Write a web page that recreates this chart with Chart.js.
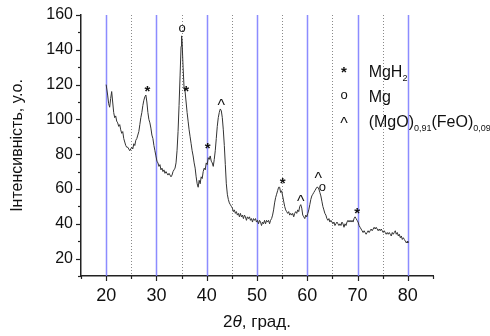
<!DOCTYPE html>
<html>
<head>
<meta charset="utf-8">
<script src="https://cdn.jsdelivr.net/npm/chart.js@4"></script>
<style>
  html, body { margin: 0; padding: 0; background: #fff; }
  #wrap { width: 490px; height: 336px; }
</style>
</head>
<body>
<div id="wrap"><canvas id="xrd"></canvas></div>
<script>
// diffraction angle (2θ, deg) and intensity
const angle = [
  20.0, 20.3, 20.5, 20.7, 20.9, 21.1, 21.3, 21.5, 21.7, 21.9,
  22.1, 22.3, 22.5, 22.7, 22.9, 23.1, 23.3, 23.5, 23.7, 23.9,
  24.1, 24.3, 24.5, 24.7, 24.9, 25.1, 25.3, 25.5, 25.7, 25.9,
  26.1, 26.3, 26.5, 26.7, 26.9, 27.1, 27.3, 27.5, 27.7, 27.9,
  28.1, 28.3, 28.5, 28.7, 28.9, 29.1, 29.3, 29.5, 29.7, 29.9,
  30.1, 30.3, 30.5, 30.7, 30.9, 31.1, 31.3, 31.5, 31.7, 31.9,
  32.1, 32.3, 32.5, 32.7, 32.9, 33.1, 33.3, 33.5, 33.7, 33.9,
  34.1, 34.3, 34.5, 34.7, 34.9, 35.0, 35.1, 35.3, 35.5, 35.7,
  35.9, 36.1, 36.3, 36.5, 36.7, 36.9, 37.1, 37.3, 37.5, 37.7,
  37.9, 38.1, 38.3, 38.5, 38.7, 38.9, 39.1, 39.3, 39.5, 39.7,
  39.9, 40.1, 40.3, 40.5, 40.7, 40.9, 41.1, 41.3, 41.5, 41.7,
  41.9, 42.1, 42.3, 42.5, 42.7, 42.9, 43.1, 43.3, 43.5, 43.7,
  43.9, 44.1, 44.3, 44.5, 44.7, 44.9, 45.1, 45.3, 45.5, 45.7,
  45.9, 46.1, 46.3, 46.5, 46.7, 46.9, 47.1, 47.3, 47.5, 47.7,
  47.9, 48.1, 48.3, 48.5, 48.7, 48.9, 49.1, 49.3, 49.5, 49.7,
  49.9, 50.1, 50.3, 50.5, 50.7, 50.9, 51.1, 51.3, 51.5, 51.7,
  51.9, 52.1, 52.3, 52.5, 52.7, 52.9, 53.1, 53.3, 53.5, 53.7,
  53.9, 54.1, 54.3, 54.5, 54.7, 54.9, 55.1, 55.3, 55.5, 55.7,
  55.9, 56.1, 56.3, 56.5, 56.7, 56.9, 57.1, 57.3, 57.5, 57.7,
  57.9, 58.1, 58.3, 58.5, 58.7, 58.9, 59.1, 59.3, 59.5, 59.7,
  59.9, 60.1, 60.3, 60.5, 60.7, 60.9, 61.1, 61.3, 61.5, 61.7,
  61.9, 62.1, 62.3, 62.5, 62.7, 62.9, 63.1, 63.3, 63.5, 63.7,
  63.9, 64.1, 64.3, 64.5, 64.7, 64.9, 65.1, 65.3, 65.5, 65.7,
  65.9, 66.1, 66.3, 66.5, 66.7, 66.9, 67.1, 67.3, 67.5, 67.7,
  67.9, 68.1, 68.3, 68.5, 68.7, 68.9, 69.1, 69.3, 69.5, 69.7,
  69.9, 70.1, 70.3, 70.5, 70.7, 70.9, 71.1, 71.3, 71.5, 71.7,
  71.9, 72.1, 72.3, 72.5, 72.7, 72.9, 73.1, 73.3, 73.5, 73.7,
  73.9, 74.1, 74.3, 74.5, 74.7, 74.9, 75.1, 75.3, 75.5, 75.7,
  75.9, 76.1, 76.3, 76.5, 76.7, 76.9, 77.1, 77.3, 77.5, 77.7,
  77.9, 78.1, 78.3, 78.5, 78.7, 78.9, 79.1, 79.3, 79.5, 79.7,
  79.9, 80.0
];
const intensity = [
  120, 114, 109, 107, 112, 116, 110, 104, 101, 102,
   99,  98,  96,  97,  94,  92,  93,  89,  87,  85,
   84,  84,  83,  82,  83,  84,  83,  86,  85,  88,
   89,  91,  93,  97, 101, 104, 108, 111, 113, 114,
  110, 104, 100,  98,  95,  91,  89,  85,  82,  79,
   76,  75,  73,  74,  71,  72,  70,  71,  69,  70,
   69,  68,  69,  68,  67,  68,  70,  71,  72,  75,
   82,  93, 108, 125, 142, 148, 145, 130, 118, 116,
  110, 104,  99,  94,  90,  86,  82,  79,  75,  72,
   67,  63,  61,  65,  63,  67,  66,  70,  72,  71,
   75,  74,  78,  77,  79,  76,  75,  73,  77,  82,
   89,  96, 101, 104, 106, 105, 101,  94,  85,  74,
   63,  57,  54,  52,  51,  50,  49,  47,  48,  46,
   47,  45,  46,  44,  46,  44,  45,  43,  45,  44,
   42,  44,  43,  44,  42,  43,  41,  43,  42,  43,
   41,  42,  40,  42,  41,  39,  41,  40,  42,  40,
   42,  41,  42,  40,  42,  43,  45,  48,  52,  55,
   57,  59,  61,  61,  58,  59,  56,  53,  50,  48,
   47,  46,  47,  45,  46,  45,  46,  44,  46,  47,
   46,  48,  47,  50,  51,  49,  45,  44,  43,  45,
   44,  46,  48,  51,  54,  56,  57,  58,  59,  60,
   61,  61,  60,  58,  56,  53,  50,  48,  46,  45,
   43,  42,  43,  41,  42,  41,  40,  41,  39,  40,
   41,  40,  39,  40,  39,  41,  40,  38,  40,  39,
   41,  42,  41,  42,  41,  42,  41,  43,  44,  43,
   42,  41,  39,  38,  37,  36,  35,  36,  35,  34,
   35,  36,  35,  36,  37,  36,  37,  38,  37,  38,
   37,  36,  37,  36,  37,  36,  35,  36,  35,  34,
   35,  34,  35,  34,  33,  35,  34,  35,  36,  34,
   35,  33,  34,  32,  33,  31,  32,  31,  30,  29,
   30,  29
];

// axis ticks
const xMajor = [20, 30, 40, 50, 60, 70, 80];
const xMinor = [15, 25, 35, 45, 55, 65, 75, 85];
const yMajor = [20, 40, 60, 80, 100, 120, 140, 160];
const yMinor = [10, 30, 50, 70, 90, 110, 130, 150];
const gridSolid = [20, 30, 40, 50, 60, 70, 80];
const gridDotted = [25, 35, 45, 55, 65, 75];

// phase markers above the peaks
const markText = ['*', 'o', '*', '*', '^', '*', '^', '^', 'o', '*'];
const markX    = [28.2, 35.1, 35.9, 40.2, 42.9, 55.1, 58.7, 62.2, 63.0, 69.9];
const markY    = [117, 152, 117, 84, 109, 64, 54, 67, 61, 47];

// legend (symbol, main text, subscript pieces)
const legendSym = ['*', 'o', '^'];
const legendText = [
  [['MgH', false], ['2', true]],
  [['Mg', false]],
  [['(MgO)', false], ['0,91', true], ['(FeO)', false], ['0,09', true]]
];
const legendSymX = 67.3, legendTextX = 72.2;
const legendY = [128, 113.5, 99];

const FONT = '"Liberation Sans", Arial, sans-serif';

function symFont(s) {
  if (s === '*') return 'bold 15px ' + FONT;
  if (s === '^') return '16px ' + FONT;
  return '13px ' + FONT;
}
function symShift(s) {
  if (s === '*') return 2;
  if (s === '^') return 3;
  return 0;
}

const decor = {
  id: 'decor',
  beforeDatasetsDraw(chart) {
    const { ctx, chartArea: a, scales: { x } } = chart;
    ctx.save();
    ctx.strokeStyle = 'rgba(120,120,255,0.85)';
    ctx.lineWidth = 1.5;
    gridSolid.forEach(v => {
      const px = Math.round(x.getPixelForValue(v)) + 0.5;
      ctx.beginPath(); ctx.moveTo(px, a.top); ctx.lineTo(px, a.bottom); ctx.stroke();
    });
    ctx.strokeStyle = '#8a8a8a';
    ctx.lineWidth = 1;
    ctx.setLineDash([1, 2]);
    gridDotted.forEach(v => {
      const px = Math.round(x.getPixelForValue(v)) + 0.5;
      ctx.beginPath(); ctx.moveTo(px, a.top); ctx.lineTo(px, a.bottom); ctx.stroke();
    });
    ctx.restore();
  },
  afterDraw(chart) {
    const { ctx, chartArea: a, scales: { x, y } } = chart;
    ctx.save();
    // tick marks, outward
    ctx.strokeStyle = '#222';
    ctx.lineWidth = 1.2;
    const tick = (vals, len, isX) => vals.forEach(v => {
      ctx.beginPath();
      if (isX) {
        const px = Math.round(x.getPixelForValue(v)) + 0.5;
        ctx.moveTo(px, a.bottom); ctx.lineTo(px, a.bottom + len);
      } else {
        const py = Math.round(y.getPixelForValue(v)) + 0.5;
        ctx.moveTo(a.left, py); ctx.lineTo(a.left - len, py);
      }
      ctx.stroke();
    });
    tick(xMajor, 5, true); tick(xMinor, 3, true);
    tick(yMajor, 5, false); tick(yMinor, 3, false);

    // peak markers
    ctx.fillStyle = '#111';
    ctx.textAlign = 'center';
    ctx.textBaseline = 'middle';
    markText.forEach((t, i) => {
      ctx.font = symFont(t);
      ctx.fillText(t, x.getPixelForValue(markX[i]), y.getPixelForValue(markY[i]) + symShift(t));
    });

    // legend
    legendSym.forEach((s, i) => {
      const py = y.getPixelForValue(legendY[i]);
      ctx.textAlign = 'center';
      ctx.textBaseline = 'middle';
      ctx.font = symFont(s);
      ctx.fillText(s, x.getPixelForValue(legendSymX), py + symShift(s));
      ctx.textAlign = 'left';
      ctx.textBaseline = 'alphabetic';
      let px = x.getPixelForValue(legendTextX);
      legendText[i].forEach(([txt, sub]) => {
        ctx.font = (sub ? '9px ' : '16px ') + FONT;
        ctx.fillText(txt, px, py + (sub ? 10 : 6));
        px += ctx.measureText(txt).width;
      });
    });

    // x axis title: 2θ, град.
    const cx = (a.left + a.right) / 2, ty = 322;
    const parts = [['2', '17px '], ['θ', 'italic 17px '], [', град.', '17px ']];
    let w = 0;
    parts.forEach(([t, f]) => { ctx.font = f + FONT; w += ctx.measureText(t).width; });
    let px = cx - w / 2;
    ctx.textAlign = 'left';
    ctx.textBaseline = 'middle';
    parts.forEach(([t, f]) => {
      ctx.font = f + FONT;
      ctx.fillText(t, px, ty);
      px += ctx.measureText(t).width;
    });

    // y axis title
    ctx.translate(18, (a.top + a.bottom) / 2);
    ctx.rotate(-Math.PI / 2);
    ctx.textAlign = 'center';
    ctx.font = '16px ' + FONT;
    ctx.fillText('Інтенсивність, у.о.', 0, 0);
    ctx.restore();
  }
};

new Chart(document.getElementById('xrd'), {
  type: 'line',
  data: {
    datasets: [{
      data: angle.map((a, i) => ({ x: a, y: intensity[i] })),
      borderColor: '#333',
      borderWidth: 1,
      pointRadius: 0,
      tension: 0
    }]
  },
  options: {
    responsive: true,
    maintainAspectRatio: false,
    animation: false,
    layout: { padding: { top: 15, right: 57, left: 0, bottom: 0 } },
    plugins: { legend: { display: false }, tooltip: { enabled: false } },
    scales: {
      x: {
        type: 'linear',
        min: 15, max: 85,
        afterBuildTicks: s => { s.ticks = xMajor.map(v => ({ value: v })); },
        afterFit: s => { s.height = 60; },
        grid: { display: false },
        border: { display: true, color: '#222', width: 1.5 },
        ticks: { color: '#111', font: { family: FONT, size: 18 }, padding: 1, maxRotation: 0 }
      },
      y: {
        min: 10, max: 160,
        afterBuildTicks: s => { s.ticks = yMajor.map(v => ({ value: v })); },
        afterFit: s => { s.width = 81; },
        grid: { display: false },
        border: { display: true, color: '#222', width: 1.5 },
        ticks: { color: '#111', font: { family: FONT, size: 16 }, padding: 0 }
      }
    }
  },
  plugins: [decor]
});
</script>
</body>
</html>
